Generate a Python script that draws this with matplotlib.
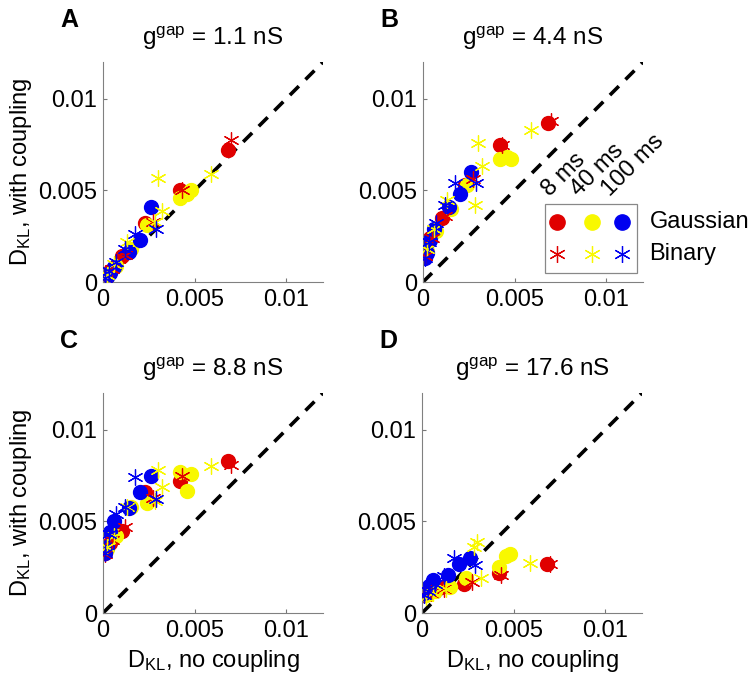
"""
DKL with vs without gap-junction coupling, four coupling strengths.
"""

import matplotlib
matplotlib.use("Agg")
import matplotlib.pyplot as plt
from matplotlib.patches import Rectangle

plt.rcParams["font.family"] = ["Liberation Sans", "DejaVu Sans"]
plt.rcParams["mathtext.fontset"] = "custom"
plt.rcParams["mathtext.rm"] = "Liberation Sans"
plt.rcParams["mathtext.it"] = "Liberation Sans:italic"

# data (x = D_KL without coupling, shared by all panels)
panel_letters = ["A", "B", "C", "D"]
g_gap = ["1.1", "4.4", "8.8", "17.6"]

x_gauss_8 = [0.0068, 0.0042, 0.0023, 0.00106, 0.0004, 0.0001]
x_gauss_40 = [0.0048, 0.0046, 0.0042, 0.0024, 0.0015, 0.0007, 0.0002]
x_gauss_100 = [0.00262, 0.0020, 0.0014, 0.0006, 0.0004, 0.0002, 0.0001]
x_bin_8 = [0.0070, 0.0043, 0.00275, 0.0012, 0.0005, 0.0001]
x_bin_40 = [0.0059, 0.0030, 0.0032, 0.00285, 0.0013, 0.0006, 0.0002]
x_bin_100 = [0.0029, 0.00175, 0.0012, 0.0007, 0.0003, 0.0001]

# y = D_KL with coupling, one list per panel
y_gauss_8 = [
    [0.0072, 0.0050, 0.0032, 0.00143, 0.0006, 0.0002],
    [0.0087, 0.0075, 0.0053, 0.0035, 0.0024, 0.0014],
    [0.0083, 0.0072, 0.0066, 0.0045, 0.0038, 0.0033],
    [0.0027, 0.0022, 0.0016, 0.0014, 0.0012, 0.0010],
]
y_gauss_40 = [
    [0.0050, 0.0048, 0.0046, 0.0031, 0.0018, 0.0009, 0.0003],
    [0.0067, 0.0068, 0.0067, 0.0053, 0.0040, 0.0028, 0.0017],
    [0.0076, 0.00665, 0.0077, 0.0060, 0.0058, 0.0042, 0.0035],
    [0.0032, 0.0031, 0.0025, 0.0019, 0.0014, 0.0012, 0.0010],
]
y_gauss_100 = [
    [0.0041, 0.0023, 0.00165, 0.0008, 0.0005, 0.0003, 0.0001],
    [0.0060, 0.0048, 0.0041, 0.0029, 0.00227, 0.0016, 0.0013],
    [0.0075, 0.0066, 0.00575, 0.0050, 0.0044, 0.0036, 0.0033],
    [0.0030, 0.0027, 0.0021, 0.0018, 0.0015, 0.0012, 0.0011],
]
y_bin_8 = [
    [0.00775, 0.0050, 0.0033, 0.0015, 0.0007, 0.0002],
    [0.0088, 0.0075, 0.0056, 0.0036, 0.0024, 0.0014],
    [0.0081, 0.0075, 0.0063, 0.0047, 0.0040, 0.0032],
    [0.0027, 0.0021, 0.0017, 0.0013, 0.0011, 0.0010],
]
y_bin_40 = [
    [0.0059, 0.0057, 0.00385, 0.0033, 0.0022, 0.0010, 0.0004],
    [0.0083, 0.00757, 0.00634, 0.00422, 0.0045, 0.0029, 0.0018],
    [0.0080, 0.0078, 0.00686, 0.0061, 0.0058, 0.0042, 0.0036],
    [0.00273, 0.0039, 0.0019, 0.0036, 0.0013, 0.0011, 0.0009],
]
y_bin_100 = [
    [0.0029, 0.0026, 0.0018, 0.0011, 0.0006, 0.0002],
    [0.0054, 0.0054, 0.0042, 0.0032, 0.0022, 0.0013],
    [0.0062, 0.0074, 0.0058, 0.0054, 0.0043, 0.0033],
    [0.0026, 0.0030, 0.0020, 0.0016, 0.0012, 0.0010],
]

window_labels = ["8 ms", "40 ms", "100 ms"]
RED, YEL, BLU = "#e00000", "#f8f800", "#0000f0"
ASTER = (6, 2, 0)
FS = 17

fig = plt.figure(figsize=(7.56, 6.92), dpi=100)
W, H = 756, 692
boxes = [(103, 62), (423, 62), (103, 393), (422, 393)]  # left, top in px
side = 220

axes = []
for i, (l, t) in enumerate(boxes):
    ax = fig.add_axes([l / W, 1 - (t + side) / H, side / W, side / H])
    axes.append(ax)

    ax.plot([0, 0.012], [0, 0.012], color="k", lw=2.6, dashes=(3.5, 2.6), zorder=1)

    groups = [
        (x_gauss_8, y_gauss_8[i], RED, "o"),
        (x_bin_8, y_bin_8[i], RED, ASTER),
        (x_gauss_40, y_gauss_40[i], YEL, "o"),
        (x_bin_40, y_bin_40[i], YEL, ASTER),
        (x_gauss_100, y_gauss_100[i], BLU, "o"),
        (x_bin_100, y_bin_100[i], BLU, ASTER),
    ]
    for xs, ys, c, m in groups:
        if m == "o":
            ax.plot(xs, ys, ls="none", marker="o", ms=10, mfc=c, mec=c, zorder=2)
        else:
            ax.plot(xs, ys, ls="none", marker=m, ms=11.5, mec=c, mew=0.9, zorder=3)

    ax.set_xlim(0, 0.012)
    ax.set_ylim(0, 0.012)
    ax.set_xticks([0, 0.005, 0.01])
    ax.set_yticks([0, 0.005, 0.01])
    ax.set_xticklabels(["0", "0.005", "0.01"])
    ax.set_yticklabels(["0", "0.005", "0.01"])
    ax.tick_params(direction="in", length=3, labelsize=FS, color="#777777")
    ax.tick_params(axis="x", pad=5)
    ax.tick_params(axis="y", pad=4)
    for s in ["top", "right"]:
        ax.spines[s].set_visible(False)
    for s in ["left", "bottom"]:
        ax.spines[s].set_color("#808080")
    ax.set_title(r"g$^{\rm gap}$ = %s nS" % g_gap[i], fontsize=FS + 0.5, pad=12)
    ty = 20 if i < 2 else 341
    fig.text((l - 34) / W, 1 - ty / H, panel_letters[i], fontsize=18,
             fontweight="bold", ha="center", va="center")

    if i in (0, 2):
        ax.set_ylabel(r"D$_{\rm KL}$, with coupling", fontsize=FS, labelpad=3)
    if i in (2, 3):
        ax.set_xlabel(r"D$_{\rm KL}$, no coupling", fontsize=FS, labelpad=4)

# hand-built legend inside panel B
axb = axes[1]
axb.add_patch(Rectangle((0.555, 0.041), 0.418, 0.312, transform=axb.transAxes,
                        fill=False, ec="#888888", lw=0.9, clip_on=False, zorder=4))
for xf, c, lab, tx in zip([0.608, 0.767, 0.904], [RED, YEL, BLU], window_labels,
                          [0.575, 0.71, 0.85]):
    axb.plot([xf], [0.275], transform=axb.transAxes, ls="none", marker="o",
             ms=11, mfc=c, mec=c, clip_on=False, zorder=5)
    axb.plot([xf], [0.128], transform=axb.transAxes, ls="none", marker=ASTER,
             ms=12, mec=c, mew=0.9, clip_on=False, zorder=5)
    axb.text(tx, 0.385, lab, transform=axb.transAxes, rotation=45,
             rotation_mode="anchor", ha="left", va="baseline", fontsize=FS)
axb.text(1.03, 0.275, "Gaussian", transform=axb.transAxes, ha="left",
         va="center", fontsize=FS)
axb.text(1.03, 0.128, "Binary", transform=axb.transAxes, ha="left",
         va="center", fontsize=FS)

fig.savefig("out.png", dpi=100)
